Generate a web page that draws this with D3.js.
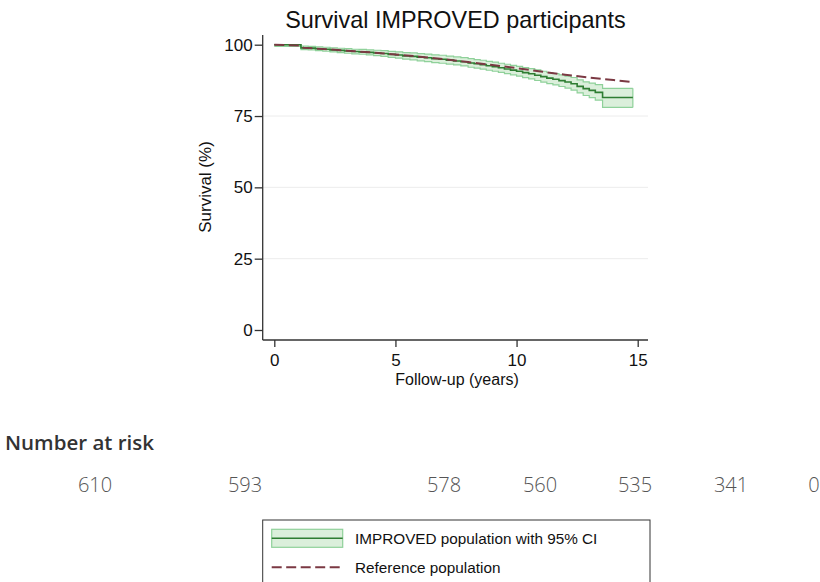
<!DOCTYPE html>
<html><head><meta charset="utf-8">
<script src="https://cdn.jsdelivr.net/npm/d3@7"></script>
<style>body{margin:0;background:#fff}svg{display:block}</style>
</head><body>
<script>
// ---- data ----
const kmTime  = [0, 1.1, 1.4, 1.7, 2.0, 2.3, 2.6, 2.9, 3.2, 3.5, 3.8, 4.1, 4.4, 4.7, 5.0, 5.3, 5.6, 5.9, 6.2, 6.5, 6.8, 7.1, 7.4, 7.7, 8.0, 8.25, 8.5, 8.75, 9.0, 9.25, 9.5, 9.75, 10.0, 10.25, 10.5, 10.75, 11.0, 11.25, 11.5, 11.75, 12.0, 12.25, 12.5, 12.75, 13.0, 13.25, 13.55, 14.8];
const kmSurv  = [100, 98.9, 98.8, 98.6, 98.4, 98.2, 98.0, 97.8, 97.6, 97.5, 97.3, 97.1, 96.9, 96.6, 96.4, 96.1, 95.9, 95.6, 95.4, 95.1, 94.9, 94.6, 94.3, 94.0, 93.6, 93.3, 93.0, 92.6, 92.3, 91.9, 91.5, 91.1, 90.7, 90.2, 89.8, 89.3, 88.8, 88.3, 87.9, 87.4, 86.9, 86.3, 85.4, 84.6, 84.0, 83.3, 81.5, 81.5];
const kmLower = [99.4, 98.3, 98.2, 97.95, 97.7, 97.5, 97.25, 97.0, 96.8, 96.65, 96.4, 96.15, 95.9, 95.55, 95.3, 94.95, 94.7, 94.35, 94.1, 93.75, 93.5, 93.2, 92.9, 92.55, 92.1, 91.8, 91.45, 91.05, 90.7, 90.3, 89.85, 89.45, 89.0, 88.45, 88.0, 87.45, 86.9, 86.35, 85.9, 85.35, 84.8, 84.1, 83.1, 82.2, 81.45, 80.6, 78.0, 78.0];
const kmUpper = [100, 99.5, 99.4, 99.25, 99.1, 98.9, 98.75, 98.6, 98.4, 98.35, 98.2, 98.05, 97.9, 97.65, 97.5, 97.25, 97.1, 96.85, 96.7, 96.45, 96.3, 96.0, 95.7, 95.45, 95.1, 94.8, 94.55, 94.15, 93.9, 93.5, 93.15, 92.75, 92.4, 91.95, 91.6, 91.15, 90.7, 90.25, 89.9, 89.45, 89.0, 88.5, 87.7, 87.0, 86.55, 86.0, 84.7, 84.7];
const refTime = [0, 1.1, 1.2, 2, 3, 4, 5, 6, 7, 8, 9, 10, 11, 12, 13, 14, 14.8];
const refSurv = [100, 99.7, 98.9, 98.5, 97.9, 97.3, 96.6, 95.8, 94.9, 93.9, 92.9, 91.8, 90.6, 89.5, 88.5, 87.6, 86.9];
const yTicks = [0, 25, 50, 75, 100];
const xTicks = [0, 5, 10, 15];
const riskCounts = [610, 593, 578, 560, 535, 341, 0];
const titleText = "Survival IMPROVED participants";
const legendLabels = ["IMPROVED population with 95% CI", "Reference population"];

// ---- layout ----
const W = 820, H = 582;
const riskLabelX = [95, 245, 444, 540, 635, 731, 814];
const svg = d3.select("body").append("svg").attr("width", W).attr("height", H);
const x = d3.scaleLinear().domain([0, 15]).range([274.3, 637.7]);
const y = d3.scaleLinear().domain([0, 100]).range([330, 44.7]);
const plotL = 262.7, plotR = 648, plotB = 340, plotT = 35;
const font = "'Liberation Sans', Arial, sans-serif";
const bandFill = "#2ca02c", bandEdge = "#8fd19a", kmColor = "#2e7d32", refColor = "#7b3943";
const dash = "10,4.5";

// grid
svg.append("g").selectAll("line").data(yTicks.filter(d => d > 0 && d < 100)).join("line")
  .attr("x1", plotL).attr("x2", plotR).attr("y1", d => y(d)).attr("y2", d => y(d))
  .attr("stroke", "#ececec").attr("stroke-width", 1);

// CI band
const km = kmTime.map((t, i) => ({t, s: kmSurv[i], lo: kmLower[i], hi: kmUpper[i]}));
svg.append("path").datum(km)
  .attr("d", d3.area().curve(d3.curveStepAfter).x(d => x(d.t)).y0(d => y(d.lo)).y1(d => y(d.hi)))
  .attr("fill", bandFill).attr("fill-opacity", 0.17).attr("stroke", "none");
["hi", "lo"].forEach(k => {
  svg.append("path").datum(km)
    .attr("d", d3.line().curve(d3.curveStepAfter).x(d => x(d.t)).y(d => y(d[k])))
    .attr("fill", "none").attr("stroke", bandEdge).attr("stroke-width", 1.2);
});
const last = km[km.length - 1];
svg.append("line").attr("x1", x(last.t)).attr("x2", x(last.t)).attr("y1", y(last.lo)).attr("y2", y(last.hi))
  .attr("stroke", bandEdge).attr("stroke-width", 1.2);
// KM line
svg.append("path").datum(km)
  .attr("d", d3.line().curve(d3.curveStepAfter).x(d => x(d.t)).y(d => y(d.s)))
  .attr("fill", "none").attr("stroke", kmColor).attr("stroke-width", 1.6);
// reference
const ref = refTime.map((t, i) => ({t, s: refSurv[i]}));
svg.append("path").datum(ref)
  .attr("d", d3.line().x(d => x(d.t)).y(d => y(d.s)))
  .attr("fill", "none").attr("stroke", refColor).attr("stroke-width", 2).attr("stroke-dasharray", dash);

// axes
const yAxis = svg.append("g").attr("transform", `translate(${plotL},0)`)
  .call(d3.axisLeft(y).tickValues(yTicks).tickSize(8).tickPadding(2));
yAxis.select(".domain").attr("d", `M0,${plotT}V${plotB}`);
const xAxis = svg.append("g").attr("transform", `translate(0,${plotB})`)
  .call(d3.axisBottom(x).tickValues(xTicks).tickSize(7).tickPadding(7));
xAxis.select(".domain").attr("d", `M${plotL},0H${plotR}`);
[yAxis, xAxis].forEach(a => {
  a.selectAll("path,line").attr("stroke", "#333").attr("stroke-width", 1.3);
  a.selectAll("text").attr("font-family", font).attr("font-size", 17).attr("fill", "#111");
});

// titles
svg.append("text").attr("x", 455.5).attr("y", 28).attr("text-anchor", "middle")
  .attr("font-family", font).attr("font-size", 23.4).attr("fill", "#111").text(titleText);
svg.append("text").attr("x", 457).attr("y", 384.5).attr("text-anchor", "middle")
  .attr("font-family", font).attr("font-size", 16).attr("fill", "#111").text("Follow-up (years)");
svg.append("text").attr("transform", "translate(211,187) rotate(-90)").attr("text-anchor", "middle")
  .attr("font-family", font).attr("font-size", 17).attr("fill", "#111").text("Survival (%)");

// number at risk
svg.append("text").attr("x", 5).attr("y", 450).attr("font-family", "'Open Sans', sans-serif")
  .attr("font-weight", 600).attr("font-size", 20.5).attr("fill", "#333").text("Number at risk");
svg.append("g").selectAll("text").data(riskCounts).join("text")
  .attr("x", (d, i) => riskLabelX[i]).attr("y", 492).attr("text-anchor", "middle")
  .attr("font-family", "'Open Sans', sans-serif").attr("font-weight", 300).attr("font-size", 20)
  .attr("fill", "#555").text(d => d);

// legend
const lg = svg.append("g");
lg.append("rect").attr("x", 262.7).attr("y", 520).attr("width", 387.3).attr("height", 80)
  .attr("fill", "#fff").attr("stroke", "#333").attr("stroke-width", 1);
lg.append("rect").attr("x", 271.7).attr("y", 529.3).attr("width", 71).attr("height", 18)
  .attr("fill", bandFill).attr("fill-opacity", 0.17).attr("stroke", bandEdge).attr("stroke-width", 1.2);
lg.append("line").attr("x1", 271.7).attr("x2", 342.7).attr("y1", 538.3).attr("y2", 538.3)
  .attr("stroke", kmColor).attr("stroke-width", 1.6);
lg.append("line").attr("x1", 271.7).attr("x2", 342.7).attr("y1", 567.3).attr("y2", 567.3)
  .attr("stroke", refColor).attr("stroke-width", 2).attr("stroke-dasharray", dash);
lg.selectAll("text.lbl").data(legendLabels).join("text").attr("class", "lbl")
  .attr("x", 355).attr("y", (d, i) => 544 + i * 29).attr("font-family", font).attr("font-size", 15.3)
  .attr("fill", "#111").text(d => d);
</script>
</body></html>
